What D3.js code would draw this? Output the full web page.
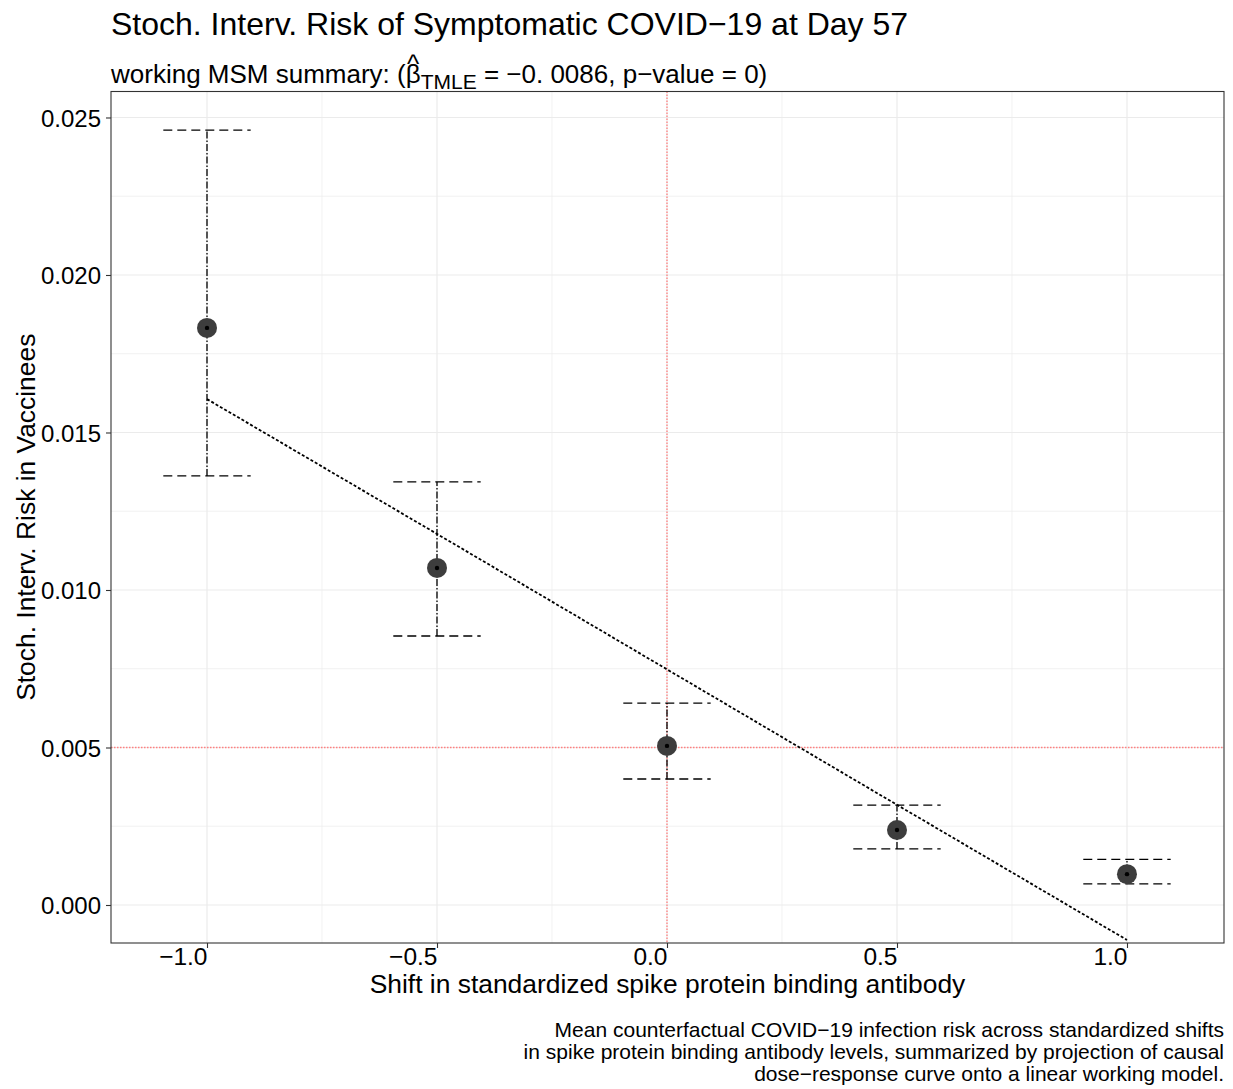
<!DOCTYPE html>
<html>
<head>
<meta charset="utf-8">
<script src="https://cdn.jsdelivr.net/npm/d3@7"></script>
<style>
  html, body { margin: 0; padding: 0; background: #fff; }
  svg text { font-family: "Liberation Sans", Arial, Helvetica, sans-serif; fill: #000; }
</style>
</head>
<body>
<svg id="chart" width="1233" height="1089"></svg>
<script>
// Stochastic-intervention risk estimates with 95% CIs, by antibody shift
const shifts = [-1.0, -0.5, 0.0, 0.5, 1.0];
const riskEst = [0.01832, 0.01070, 0.00505, 0.00238, 0.00098];
const riskLower = [0.01362, 0.00854, 0.00400, 0.00178, 0.00067];
const riskUpper = [0.02460, 0.01343, 0.00641, 0.00317, 0.00145];
// Fitted values of the linear working MSM at each shift
const msmFit = [0.01606, 0.01178, 0.00748, 0.00318, -0.00111];

const xTicks = [-1.0, -0.5, 0.0, 0.5, 1.0];
const xMinor = [-0.75, -0.25, 0.25, 0.75];
const yTicks = [0.000, 0.005, 0.010, 0.015, 0.020, 0.025];
const yMinor = [0.0025, 0.0075, 0.0125, 0.0175, 0.0225];
const refX = 0;
const refY = 0.005;

const titleText = "Stoch. Interv. Risk of Symptomatic COVID\u221219 at Day 57";
const xTitle = "Shift in standardized spike protein binding antibody";
const yTitle = "Stoch. Interv. Risk in Vaccinees";
const captionLines = [
  "Mean counterfactual COVID\u221219 infection risk across standardized shifts",
  "in spike protein binding antibody levels, summarized by projection of causal",
  "dose\u2212response curve onto a linear working model."
];

const svg = d3.select("#chart");
const panel = { left: 111, top: 91.5, right: 1224, bottom: 943 };

const x = d3.scaleLinear().domain([-1.2087, 1.2109]).range([panel.left, panel.right]);
const y = d3.scaleLinear().domain([-0.0012063, 0.025825]).range([panel.bottom, panel.top]);

// Panel background
svg.append("rect")
  .attr("x", panel.left).attr("y", panel.top)
  .attr("width", panel.right - panel.left).attr("height", panel.bottom - panel.top)
  .attr("fill", "#fff");

// Grid
const grid = svg.append("g");
grid.selectAll(".xminor").data(xMinor).join("line")
  .attr("x1", d => x(d)).attr("x2", d => x(d))
  .attr("y1", panel.top).attr("y2", panel.bottom)
  .attr("stroke", "#ebebeb").attr("stroke-width", 0.7);
grid.selectAll(".yminor").data(yMinor).join("line")
  .attr("y1", d => y(d)).attr("y2", d => y(d))
  .attr("x1", panel.left).attr("x2", panel.right)
  .attr("stroke", "#ebebeb").attr("stroke-width", 0.7);
grid.selectAll(".xmajor").data(xTicks).join("line")
  .attr("x1", d => x(d)).attr("x2", d => x(d))
  .attr("y1", panel.top).attr("y2", panel.bottom)
  .attr("stroke", "#ebebeb").attr("stroke-width", 1.2);
grid.selectAll(".ymajor").data(yTicks).join("line")
  .attr("y1", d => y(d)).attr("y2", d => y(d))
  .attr("x1", panel.left).attr("x2", panel.right)
  .attr("stroke", "#ebebeb").attr("stroke-width", 1.2);

// Reference lines
svg.append("line")
  .attr("x1", x(refX)).attr("x2", x(refX))
  .attr("y1", panel.top).attr("y2", panel.bottom)
  .attr("stroke", "#ff8080").attr("stroke-width", 1.3)
  .attr("stroke-dasharray", "1.5,1.5");
svg.append("line")
  .attr("x1", panel.left).attr("x2", panel.right)
  .attr("y1", y(refY)).attr("y2", y(refY))
  .attr("stroke", "#ff8080").attr("stroke-width", 1.3)
  .attr("stroke-dasharray", "1.5,1.5");

const data = shifts.map((s, i) => ({ s, est: riskEst[i], lo: riskLower[i], hi: riskUpper[i], fit: msmFit[i] }));
const capHalf = 0.095;

// Error bars: vertical segment and caps
svg.append("g").selectAll("line").data(data).join("line")
  .attr("x1", d => x(d.s)).attr("x2", d => x(d.s))
  .attr("y1", d => y(d.lo)).attr("y2", d => y(d.hi))
  .attr("stroke", "#000").attr("stroke-width", 1.3)
  .attr("stroke-dasharray", "7,2,1.5,2");
const caps = svg.append("g");
["lo", "hi"].forEach(k => {
  caps.selectAll(".cap-" + k).data(data).join("line")
    .attr("x1", d => x(d.s - capHalf)).attr("x2", d => x(d.s + capHalf))
    .attr("y1", d => y(d[k])).attr("y2", d => y(d[k]))
    .attr("stroke", "#000").attr("stroke-width", 1.3)
    .attr("stroke-dasharray", "9,5");
});

// Working MSM line
svg.append("path")
  .datum(data)
  .attr("d", d3.line().x(d => x(d.s)).y(d => y(d.fit)))
  .attr("fill", "none").attr("stroke", "#000").attr("stroke-width", 1.8)
  .attr("stroke-dasharray", "3,2");

// Point estimates
svg.append("g").selectAll("circle").data(data).join("circle")
  .attr("cx", d => x(d.s)).attr("cy", d => y(d.est)).attr("r", 10)
  .attr("fill", "#3d3d3d");
svg.append("g").selectAll("circle").data(data).join("circle")
  .attr("cx", d => x(d.s)).attr("cy", d => y(d.est)).attr("r", 2.2)
  .attr("fill", "#000");

// Panel border
svg.append("rect")
  .attr("x", panel.left).attr("y", panel.top)
  .attr("width", panel.right - panel.left).attr("height", panel.bottom - panel.top)
  .attr("fill", "none").attr("stroke", "#333").attr("stroke-width", 1.1);

// Axes
const xAxis = d3.axisBottom(x).tickValues(xTicks).tickSize(5).tickPadding(4)
  .tickFormat(d => d3.format(".1f")(d).replace("-", "\u2212"));
const gx = svg.append("g").attr("transform", `translate(0,${panel.bottom})`).call(xAxis);
gx.select(".domain").remove();
gx.selectAll(".tick line").attr("stroke", "#333").attr("stroke-width", 1.1);
gx.selectAll(".tick text")
  .attr("font-size", 24.5).attr("fill", "#000")
  .attr("font-family", "Liberation Sans, Arial, sans-serif")
  .attr("text-anchor", "end")
  .attr("y", 22).attr("dy", null);

const yAxis = d3.axisLeft(y).tickValues(yTicks).tickSize(5).tickPadding(5)
  .tickFormat(d3.format(".3f"));
const gy = svg.append("g").attr("transform", `translate(${panel.left},0)`).call(yAxis);
gy.select(".domain").remove();
gy.selectAll(".tick line").attr("stroke", "#333").attr("stroke-width", 1.1);
gy.selectAll(".tick text")
  .attr("font-size", 24).attr("fill", "#000")
  .attr("font-family", "Liberation Sans, Arial, sans-serif")
  .attr("x", -10).attr("dy", "0.36em");

// Axis titles
svg.append("text")
  .attr("x", (panel.left + panel.right) / 2).attr("y", 993)
  .attr("text-anchor", "middle").attr("font-size", 26.4)
  .text(xTitle);
svg.append("text")
  .attr("transform", `translate(35,${(panel.top + panel.bottom) / 2}) rotate(-90)`)
  .attr("text-anchor", "middle").attr("font-size", 26.4)
  .text(yTitle);

// Title and subtitle
svg.append("text")
  .attr("x", panel.left).attr("y", 35)
  .attr("font-size", 32)
  .text(titleText);

// Subtitle: beta-hat with TMLE subscript, all within one text element
const sub = svg.append("text").attr("x", panel.left).attr("y", 83).attr("font-size", 26);
const pre = sub.append("tspan").text("working MSM summary: (");
const beta = sub.append("tspan").text("\u03B2");
const hat = sub.append("tspan").text("^");
const subscript = sub.append("tspan").attr("font-size", 21).text("TMLE");
const rest = sub.append("tspan").text(" = \u22120. 0086, p\u2212value = 0)");
const preW = pre.node().getComputedTextLength();
const betaW = beta.node().getComputedTextLength();
const hatW = hat.node().getComputedTextLength();
const betaEnd = panel.left + preW + betaW;
hat.attr("x", panel.left + preW + betaW / 2 - hatW / 2).attr("dy", -10);
subscript.attr("x", betaEnd).attr("dy", 16);
rest.attr("dy", -6);

// Caption
svg.append("g").selectAll("text").data(captionLines).join("text")
  .attr("x", panel.right).attr("y", (d, i) => 1037 + i * 22)
  .attr("text-anchor", "end").attr("font-size", 21)
  .text(d => d);
</script>
</body>
</html>
